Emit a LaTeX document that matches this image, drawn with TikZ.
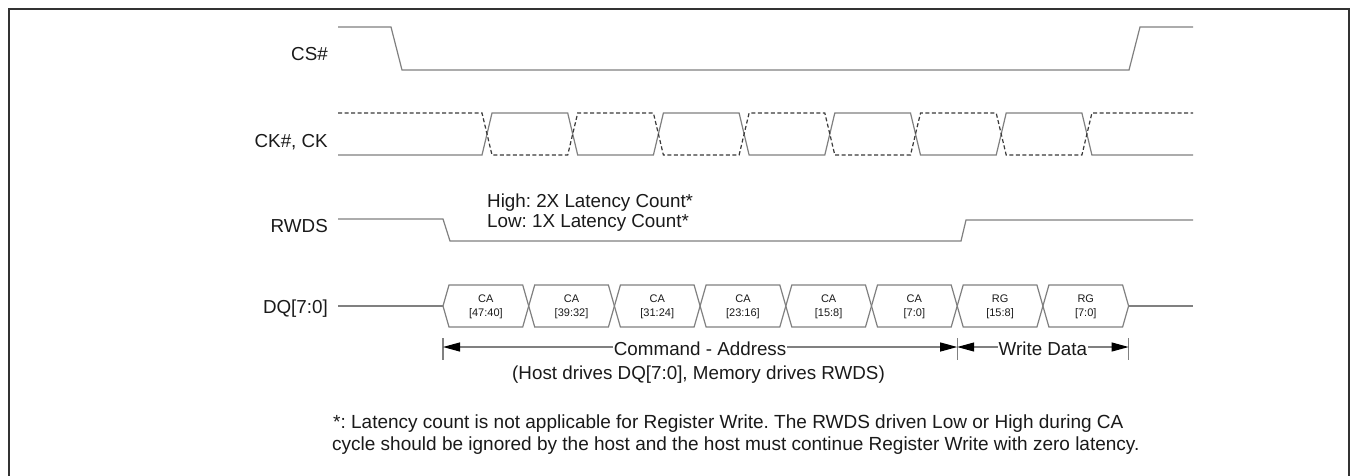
\documentclass[tikz,border=0pt]{standalone}
\usepackage{fontspec}
\setmainfont{Liberation Sans}
\usetikzlibrary{arrows.meta}
\definecolor{sigc}{HTML}{808080}
\definecolor{dashc}{HTML}{3A3A3A}
\definecolor{txt}{HTML}{1A1A1A}
\definecolor{framec}{HTML}{333333}
\frenchspacing
\begin{document}
\begin{tikzpicture}[x=1pt,y=-1pt,
  sig/.style={draw=sigc,line width=1.2pt,line join=miter},
  dsig/.style={draw=dashc,line width=1.2pt,dash pattern=on 4pt off 2.5pt},
  lbl/.style={anchor=base east,inner sep=0pt,text=txt,font=\fontsize{18.8}{22}\selectfont},
  ann/.style={inner sep=0pt,text=txt,font=\fontsize{18.8}{22}\selectfont},
  foot/.style={inner sep=0pt,text=txt,font=\fontsize{19}{22}\selectfont},
  cell/.style={inner sep=0pt,align=center,text=txt,font=\fontsize{11}{14}\selectfont},
  tick/.style={draw=sigc,line width=1.1pt},
  dim/.style={draw=sigc,line width=1.1pt,
    {Triangle[length=17pt,width=9pt,fill=black,color=black]}-{Triangle[length=17pt,width=9pt,fill=black,color=black]}},
  frame/.style={draw=framec,line width=2.4pt}]
\useasboundingbox (0,0) rectangle (1351,475);
\fill[white] (0,0) rectangle (1351,475);
% frame (open at the bottom)
\draw[frame] (9,476) -- (9,9) -- (1349,9) -- (1349,476);

% signal labels
\node[lbl] (lcs) at (328,60) {CS\#};
\node[lbl] (lck) at (328,147) {CK\#, CK};
\node[lbl] (lrw) at (328,232) {RWDS};
\node[lbl] (ldq) at (328,313) {DQ[7:0]};

% CS#
\draw[sig] (338,27) -- (391,27) -- (402,70) -- (1129,70) -- (1140,27) -- (1193,27);

% CK# / CK
\draw[sig] (338,155) -- (482,155) -- (492,113) -- (567.7,113) -- (577.7,155) -- (653.4,155) -- (663.4,113)
  -- (739.1,113) -- (749.1,155) -- (824.8,155) -- (834.8,113) -- (910.5,113) -- (920.5,155)
  -- (996.2,155) -- (1006.2,113) -- (1081.9,113) -- (1091.9,155) -- (1193,155);
\draw[dsig] (338,113) -- (482,113) -- (492,155) -- (567.7,155) -- (577.7,113) -- (653.4,113) -- (663.4,155)
  -- (739.1,155) -- (749.1,113) -- (824.8,113) -- (834.8,155) -- (910.5,155) -- (920.5,113)
  -- (996.2,113) -- (1006.2,155) -- (1081.9,155) -- (1091.9,113) -- (1193,113);

% RWDS
\draw[sig] (338,219) -- (443,219) -- (450,241) -- (961,241) -- (966,220) -- (1193,220);
\node[ann,anchor=base west] (hi) at (487,207) {High: 2X Latency Count*};
\node[ann,anchor=base west] (lo) at (487,227) {Low: 1X Latency Count*};

% DQ[7:0]
\draw[sig] (338,306) -- (443,306);
\draw[sig] (1128.6,306) -- (1193,306);
\foreach \i/\a/\b [evaluate=\i as \xl using 443+85.7*\i,
                   evaluate=\i as \xr using 443+85.7*(\i+1),
                   evaluate=\i as \xc using 443+85.7*(\i+0.5)] in
  {0/CA/[47:40],1/CA/[39:32],2/CA/[31:24],3/CA/[23:16],4/CA/[15:8],5/CA/[7:0],6/RG/[15:8],7/RG/[7:0]}{
  \draw[sig] (\xl,306) -- (\xl+6,285) -- (\xr-6,285) -- (\xr,306) -- (\xr-6,327) -- (\xl+6,327) -- cycle;
  \node[cell] (dq\i) at (\xc,306.5) {\a\\\b};
}

% dimension arrows
\coordinate (t1) at (443,347);
\coordinate (t2) at (957.2,347);
\coordinate (t3) at (1128.6,347);
\draw[tick] (443,338) -- (443,360);
\draw[tick] (957.2,338) -- (957.2,360);
\draw[tick] (1128.6,338) -- (1128.6,360);
\draw[dim] (t1) -- (t2) node[midway,ann,fill=white,inner xsep=1pt,inner ysep=2pt,yshift=-1.5pt] (cmd) {Command - Address};
\draw[dim] (t2) -- (t3) node[midway,ann,fill=white,inner xsep=1pt,inner ysep=2pt,yshift=-1.5pt] (wd) {Write Data};
\node[ann,anchor=base] (host) at (698.5,379) {(Host drives DQ[7:0], Memory drives RWDS)};

% footnote
\node[foot,anchor=base west] (fn1) at (333,428) {*: Latency count is not applicable for Register Write. The RWDS driven Low or High during CA};
\node[foot,anchor=base west] (fn2) at (332,450) {cycle should be ignored by the host and the host must continue Register Write with zero latency.};
\end{tikzpicture}
\end{document}
